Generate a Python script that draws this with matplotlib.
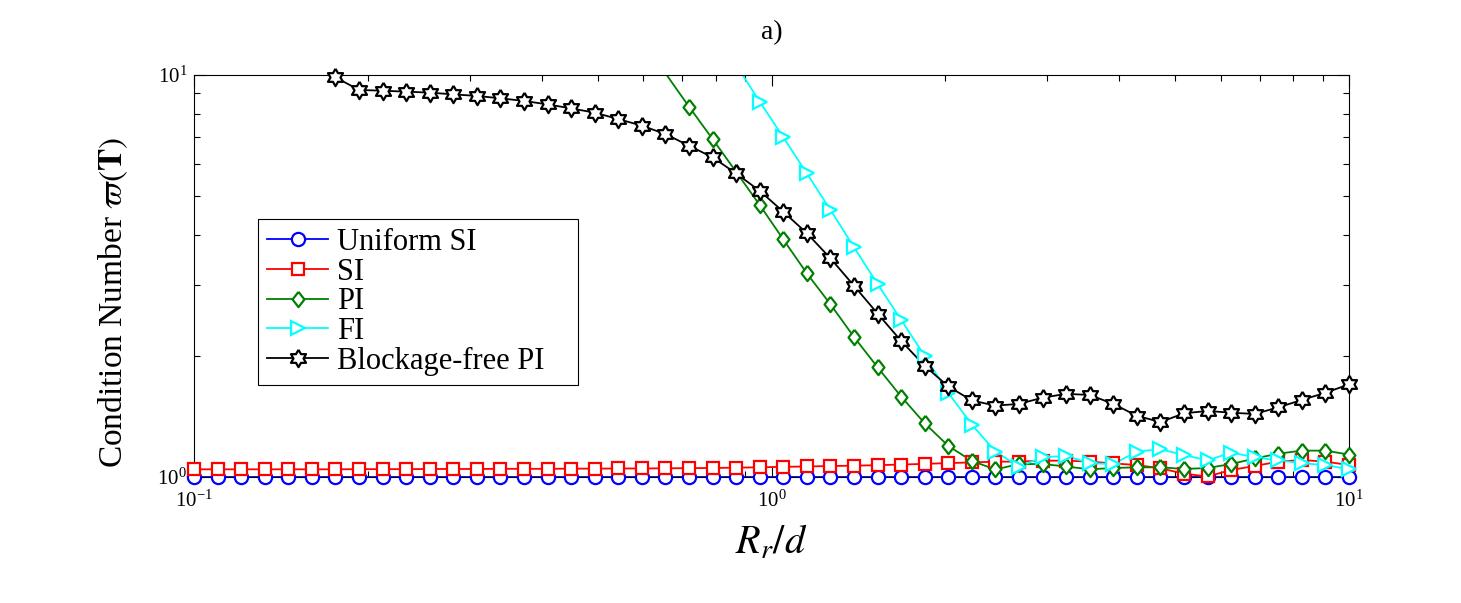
import numpy as np
import matplotlib
matplotlib.use("Agg")
import matplotlib.pyplot as plt
from matplotlib.lines import Line2D
from matplotlib.ticker import NullFormatter, LogLocator

plt.rcParams['font.family'] = ['Liberation Serif', 'DejaVu Serif']
plt.rcParams['mathtext.fontset'] = 'stix'

# R_r/d grid (50 log-spaced points from 0.1 to 10)
r_over_d = np.logspace(-1, 1, 50)
nan = np.nan

uniform_si = [1.0] * 50

si = [1.045, 1.045, 1.045, 1.045, 1.045, 1.045, 1.045, 1.046, 1.046, 1.046,
      1.047, 1.047, 1.047, 1.048, 1.048, 1.048, 1.049, 1.049, 1.050, 1.050,
      1.051, 1.052, 1.053, 1.055, 1.057, 1.060, 1.062, 1.065, 1.067, 1.070,
      1.074, 1.078, 1.083, 1.087, 1.092, 1.092, 1.098, 1.098, 1.092, 1.081,
      1.071, 1.051, 1.019, 1.003, 1.041, 1.065, 1.092, 1.102, 1.092, 1.071]

pi = [nan] * 19 + [
      12.4, 10.1, 8.34, 6.93, 5.74, 4.75, 3.90, 3.21, 2.69, 2.23,
      1.875, 1.585, 1.36, 1.195, 1.096, 1.044, 1.077, 1.077, 1.062, 1.045,
      1.053, 1.057, 1.057, 1.047, 1.053, 1.077, 1.112, 1.143, 1.163, 1.163,
      1.137]

fi = [nan] * 22 + [
      13.0, 10.6, 8.58, 7.00, 5.69, 4.62, 3.73, 3.02, 2.46, 2.00,
      1.62, 1.35, 1.157, 1.061, 1.12, 1.128, 1.082, 1.077, 1.157, 1.172,
      1.134, 1.10, 1.15, 1.12, 1.10, 1.082, 1.071, 1.045]

blockage_free_pi = [nan] * 6 + [
      9.87, 9.18, 9.14, 9.09, 9.04, 8.95, 8.87, 8.75, 8.62, 8.45,
      8.26, 8.06, 7.77, 7.48, 7.13, 6.67, 6.24, 5.69, 5.15, 4.57,
      4.04, 3.50, 2.99, 2.55, 2.18, 1.89, 1.68, 1.55, 1.505, 1.52,
      1.575, 1.61, 1.60, 1.52, 1.42, 1.37, 1.44, 1.46, 1.445, 1.435,
      1.49, 1.555, 1.62, 1.70]

# MATLAB-like markers: tall diamond and hexagram
diamond = [(0, 1), (0.78, 0), (0, -1), (-0.78, 0), (0, 1)]
ang = np.deg2rad(90 + 30 * np.arange(12))
rad = np.where(np.arange(12) % 2 == 0, 1.0, 0.577)
hexagram = list(zip(rad * np.cos(ang), rad * np.sin(ang)))
hexagram.append(hexagram[0])

series = [
    ("Uniform SI", uniform_si, "#0000ff", "o", 9.5),
    ("SI", si, "#ff0000", "s", 8.5),
    ("PI", pi, "#008000", diamond, 11),
    ("FI", fi, "#00ffff", ">", 10),
    ("Blockage-free PI", blockage_free_pi, "#000000", hexagram, 12.5),
]

fig = plt.figure(figsize=(14.61, 6.03), dpi=100)
ax = fig.add_axes([194 / 1461, 1 - 477 / 603, 1155 / 1461, 402 / 603])

handles = []
for name, vals, col, mk, ms in series:
    v = np.array(vals, dtype=float)
    # line clipped to the axes, markers only for points inside the axes
    ax.plot(r_over_d, v, color=col, lw=1.3)
    inside = ~np.isnan(v) & (v <= 10.0)
    ax.plot(r_over_d[inside], v[inside], ls='none', marker=mk, ms=ms,
            mfc='white', mec=col, mew=1.6, clip_on=False, zorder=3)
    handles.append(Line2D([], [], color=col, lw=1.3, marker=mk, ms=ms,
                          mfc='white', mec=col, mew=1.6, label=name))

ax.set_xscale('log')
ax.set_yscale('log')
ax.set_xlim(0.1, 10)
ax.set_ylim(1, 10)

ax.yaxis.set_minor_locator(LogLocator(base=10, subs=np.arange(2, 10)))
ax.yaxis.set_minor_formatter(NullFormatter())
ax.xaxis.set_minor_formatter(NullFormatter())
ax.tick_params(which='both', direction='in', top=True, right=True, width=0.8)
ax.tick_params(which='major', length=8, labelsize=15)
ax.tick_params(axis='x', which='major', pad=10)
ax.tick_params(axis='y', which='major', pad=5)
ax.tick_params(which='minor', length=4)
for s in ax.spines.values():
    s.set_linewidth(0.8)

ax.set_xlabel(r'$R_r/d$', fontsize=29, labelpad=9)
ax.set_ylabel(r'Condition Number $\varpi(\mathbf{T})$', fontsize=24)
ax.yaxis.set_label_coords(-0.055, 0.435)
ax.set_title('a)', fontsize=20, pad=26)

leg = ax.legend(handles=handles, loc='upper left',
                bbox_to_anchor=(0.0554, 0.642 - 0.3, 0.277, 0.3), mode='expand',
                borderaxespad=0, fontsize=22, fancybox=False, edgecolor='black',
                framealpha=1, handlelength=2.0, handletextpad=0.3,
                labelspacing=0.02, borderpad=0.3)
leg.get_frame().set_linewidth(0.8)

fig.savefig('out.png', dpi=100)
